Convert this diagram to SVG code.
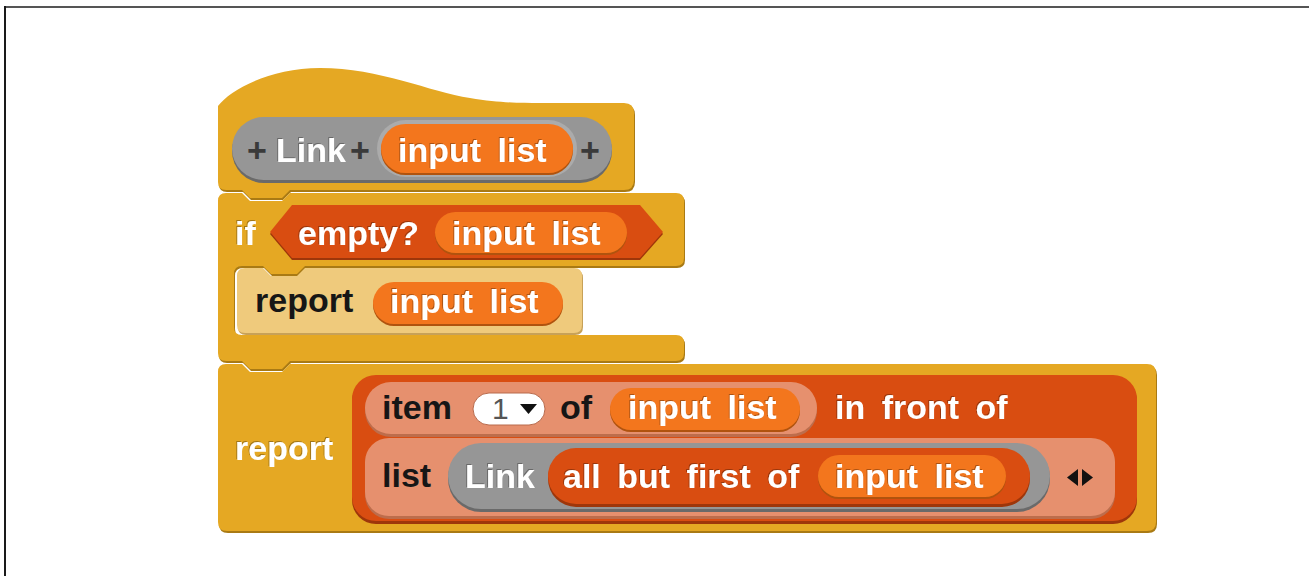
<svg xmlns="http://www.w3.org/2000/svg" width="1309" height="576" viewBox="0 0 1309 576">
  <style>
    .t { font-family: "Liberation Sans", Arial, Helvetica, sans-serif; font-weight: bold; font-size: 34px; word-spacing: 7px; }
    .w { fill: #ffffff; filter: url(#emb); }
    .k { fill: #161616; }
    .plus { fill: #3a3a3a; }
    .gold { fill: #E5A823; }
    .goldEdge { fill: #A97A14; }
    .zgold { fill: #EFCA7C; }
    .zgoldEdge { fill: #C7A158; }
    .lists { fill: #D94D11; }
    .listsEdge { fill: #9E360A; }
    .zlists { fill: #E6906E; }
    .zlistsEdge { fill: #BD6D4C; }
    .var { fill: #F3761D; }
    .varEdge { fill: #B0530E; }
    .other { fill: #969696; }
    .otherEdge { fill: #6A6A6A; }
  </style>
  <defs>
    <filter id="emb" x="-5%" y="-20%" width="110%" height="140%">
      <feOffset in="SourceAlpha" dx="-1" dy="-1" result="off"/>
      <feFlood flood-color="#000000" flood-opacity="0.3"/>
      <feComposite in2="off" operator="in" result="sh"/>
      <feMerge>
        <feMergeNode in="sh"/>
        <feMergeNode in="SourceGraphic"/>
      </feMerge>
    </filter>
    <!-- variable pill used for every "input list" reporter -->
    <g id="inputList">
      <rect class="varEdge" x="0" y="2" width="190" height="42" rx="21"/>
      <rect class="var" x="0" y="0" width="190" height="42" rx="21"/>
    </g>
  </defs>

  <!-- frame -->
  <line x1="5" y1="7" x2="1309" y2="7" stroke="#555555" stroke-width="2"/>
  <line x1="5" y1="6" x2="5" y2="576" stroke="#1a1a1a" stroke-width="2"/>

  <!-- hat block: custom block definition -->
  <g id="hat">
    <path class="goldEdge" transform="translate(1,2)" d="M218,106 C230,90 270,68 320,68 C380,68 430,92 470,98 C500,103 520,103 540,103 L624,103 Q634,103 634,113 L634,180 Q634,190 624,190 L290,190 L282,198 L250,198 L242,190 L226,190 Q218,190 218,182 Z"/>
    <path class="gold" d="M218,106 C230,90 270,68 320,68 C380,68 430,92 470,98 C500,103 520,103 540,103 L624,103 Q634,103 634,113 L634,180 Q634,190 624,190 L290,190 L282,198 L250,198 L242,190 L226,190 Q218,190 218,182 Z"/>
    <!-- prototype -->
    <rect class="otherEdge" x="232" y="119" width="380" height="64" rx="32"/>
    <rect class="other" x="232" y="117" width="380" height="63" rx="31.5"/>
    <rect x="377" y="120" width="200" height="57" rx="28.5" fill="#ABABAB"/>
    <rect class="varEdge" x="381" y="126" width="192" height="49" rx="24.5"/>
    <rect class="var" x="381" y="124" width="192" height="49" rx="24.5"/>
    <text class="t plus" x="247" y="162">+</text>
    <text class="t w" x="276" y="162">Link</text>
    <text class="t plus" x="350" y="162">+</text>
    <text class="t w" x="398" y="162">input list</text>
    <text class="t plus" x="580" y="162">+</text>
  </g>

  <!-- if block -->
  <g id="ifBlock">
    <path class="goldEdge" transform="translate(1,2)" d="M218,201 Q218,193 226,193 L242,193 L250,201 L282,201 L290,193 L676,193 Q684,193 684,201 L684,258 Q684,266 676,266 L305,266 L297,274 L271,274 L263,266 L242,266 Q234,266 234,274 L234,327 Q234,335 242,335 L676,335 Q684,335 684,343 L684,353 Q684,361 676,361 L290,361 L282,369 L250,369 L242,361 L226,361 Q218,361 218,353 Z"/>
    <path class="gold" d="M218,201 Q218,193 226,193 L242,193 L250,201 L282,201 L290,193 L676,193 Q684,193 684,201 L684,258 Q684,266 676,266 L305,266 L297,274 L271,274 L263,266 L242,266 Q234,266 234,274 L234,327 Q234,335 242,335 L676,335 Q684,335 684,343 L684,353 Q684,361 676,361 L290,361 L282,369 L250,369 L242,361 L226,361 Q218,361 218,353 Z"/>
    <text class="t w" x="235" y="245">if</text>
    <!-- empty? predicate -->
    <polygon class="listsEdge" points="270,234 292,207 640,207 663,234 640,260 292,260"/>
    <polygon class="lists" points="270,232 292,205 640,205 663,232 640,258 292,258"/>
    <rect class="varEdge" x="435" y="214" width="192" height="41" rx="20.5"/>
    <rect class="var" x="435" y="212" width="192" height="41" rx="20.5"/>
    <text class="t w" x="298" y="245">empty?</text>
    <text class="t w" x="452" y="245">input list</text>
  </g>

  <!-- report inside the C-slot -->
  <g id="reportInner">
    <path class="zgoldEdge" transform="translate(1,2)" d="M237,276 Q237,268 245,268 L263,268 L271,276 L297,276 L305,268 L574,268 Q582,268 582,276 L582,325 Q582,333 574,333 L245,333 Q237,333 237,325 Z"/>
    <path class="zgold" d="M237,276 Q237,268 245,268 L263,268 L271,276 L297,276 L305,268 L574,268 Q582,268 582,276 L582,325 Q582,333 574,333 L245,333 Q237,333 237,325 Z"/>
    <text class="t k" x="255" y="312">report</text>
    <use href="#inputList" x="373" y="282"/>
    <text class="t w" x="390" y="313">input list</text>
  </g>

  <!-- final report block -->
  <g id="reportOuter">
    <path class="goldEdge" transform="translate(1,2)" d="M218,372 Q218,364 226,364 L242,364 L250,372 L282,372 L290,364 L1147,364 Q1156,364 1156,373 L1156,522 Q1156,531 1147,531 L227,531 Q218,531 218,522 Z"/>
    <path class="gold" d="M218,372 Q218,364 226,364 L242,364 L250,372 L282,372 L290,364 L1147,364 Q1156,364 1156,373 L1156,522 Q1156,531 1147,531 L227,531 Q218,531 218,522 Z"/>
    <text class="t w" x="235" y="460">report</text>
  </g>

  <!-- in front of -->
  <g id="inFrontOf">
    <rect class="listsEdge" x="352" y="377" width="785" height="147" rx="24"/>
    <rect class="lists" x="352" y="375" width="785" height="146" rx="24"/>
    <text class="t w" x="835" y="419">in front of</text>
  </g>

  <!-- item 1 of input list -->
  <g id="itemOf">
    <rect class="zlistsEdge" x="365" y="384" width="452" height="53" rx="26"/>
    <rect class="zlists" x="365" y="382" width="452" height="52" rx="26"/>
    <text class="t k" x="382" y="419">item</text>
    <rect x="473" y="393" width="72" height="32" rx="16" fill="#ffffff" stroke="#b86a4c" stroke-width="1"/>
    <text x="492" y="419" font-family="'Liberation Sans', Arial, sans-serif" font-size="30" fill="#555555">1</text>
    <polygon points="520,404 537,404 528.5,414" fill="#111111"/>
    <text class="t k" x="560" y="419">of</text>
    <use href="#inputList" x="610" y="388"/>
    <text class="t w" x="628" y="419">input list</text>
  </g>

  <!-- list (Link (all but first of input list)) -->
  <g id="listBlock">
    <rect class="zlistsEdge" x="365" y="440" width="750" height="79" rx="24"/>
    <rect class="zlists" x="365" y="438" width="750" height="78" rx="24"/>
    <text class="t k" x="382" y="487">list</text>
    <polygon points="1078,469 1078,486 1067,477.5" fill="#111111"/>
    <polygon points="1082,469 1082,486 1093,477.5" fill="#111111"/>
  </g>

  <g id="linkCall">
    <rect class="otherEdge" x="448" y="445" width="602" height="67" rx="33"/>
    <rect class="other" x="448" y="443" width="602" height="66" rx="33"/>
    <text class="t w" x="465" y="488">Link</text>
  </g>

  <g id="allButFirst">
    <rect class="listsEdge" x="548" y="450" width="482" height="57" rx="28"/>
    <rect class="lists" x="548" y="448" width="482" height="56" rx="28"/>
    <text class="t w" x="563" y="488">all but first of</text>
    <rect class="varEdge" x="818" y="457" width="188" height="42" rx="21"/>
    <rect class="var" x="818" y="455" width="188" height="42" rx="21"/>
    <text class="t w" x="835" y="488">input list</text>
  </g>
</svg>
